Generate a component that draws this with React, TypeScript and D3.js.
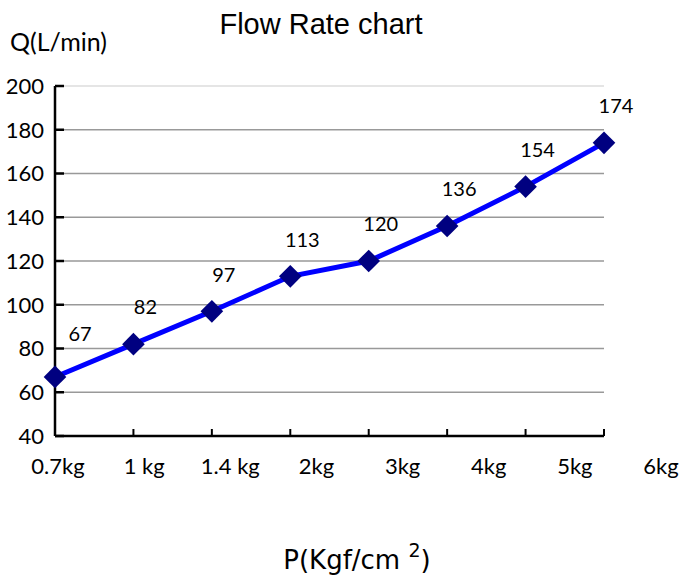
import { scaleLinear, scalePoint, line } from 'd3';

const categories = ['0.7kg', '1 kg', '1.4 kg', '2kg', '3kg', '4kg', '5kg', '6kg'];
const flow = [67, 82, 97, 113, 120, 136, 154, 174];
const yTicks = [40, 60, 80, 100, 120, 140, 160, 180, 200];

const width = 679;
const height = 577;
const left = 55;
const right = 604;
const top = 86;
const bottom = 436;

const App = () => {
  const xScale = scalePoint<string>().domain(categories).range([left, right]);
  // category labels are spaced wider than the ticks in the original
  const labelScale = scalePoint<string>().domain(categories).range([58, 661]);
  const yScale = scaleLinear().domain([40, 200]).range([bottom, top]);

  const path = line<number>()
    .x((_, i) => xScale(categories[i]) as number)
    .y(d => yScale(d))(flow);

  const font = 'Lato, "Open Sans", sans-serif';

  return (
    <svg width={width} height={height} style={{ position: 'absolute', left: 0, top: 0 }}>
      <rect width={width} height={height} fill="#fff" />
      <text x={321} y={34} textAnchor="middle" fontFamily='"Liberation Sans", Arial, sans-serif' fontSize={29}>
        Flow Rate chart
      </text>
      <text x={10} y={51} fontFamily={font} fontSize={25}>Q(L/min)</text>

      {/* gridlines */}
      {yTicks.filter(t => t > 40).map(t => (
        <line key={t} x1={left} x2={right} y1={yScale(t)} y2={yScale(t)}
          stroke={t === 200 ? '#ddd' : '#999'} strokeWidth={1.5} />
      ))}

      {/* y axis */}
      <line x1={left} x2={left} y1={top} y2={bottom} stroke="#000" strokeWidth={2.5} />
      {yTicks.map(t => (
        <g key={t}>
          <line x1={left} x2={left + 9} y1={yScale(t)} y2={yScale(t)} stroke="#000" strokeWidth={2.5} />
          <text x={44} y={yScale(t)} dy="0.36em" textAnchor="end" fontFamily={font} fontSize={22}>{t}</text>
        </g>
      ))}

      {/* x axis */}
      <line x1={left} x2={right} y1={bottom} y2={bottom} stroke="#000" strokeWidth={2.5} />
      {categories.map(c => (
        <line key={c} x1={xScale(c)} x2={xScale(c)} y1={bottom} y2={bottom - 7} stroke="#000" strokeWidth={2} />
      ))}
      {categories.map(c => (
        <text key={c} x={labelScale(c)} y={474} textAnchor="middle" fontFamily={font} fontSize={22}>{c}</text>
      ))}

      <path d={path ?? ''} fill="none" stroke="#0000ff" strokeWidth={5} />
      {flow.map((v, i) => {
        const cx = xScale(categories[i]) as number;
        const cy = yScale(v);
        return (
          <g key={i}>
            <rect x={cx - 8} y={cy - 8} width={16} height={16} fill="#000080"
              transform={`rotate(45 ${cx} ${cy})`} />
            <text x={cx + (i === 0 ? 25 : 12)} y={cy - (i === 0 ? 43 : 37)} dy="0.36em" textAnchor="middle"
              fontFamily={font} fontSize={20}>{v}</text>
          </g>
        );
      })}

      <text x={357} y={569} textAnchor="middle" fontFamily='"DejaVu Sans", Verdana, sans-serif' fontSize={26}>
        P(Kgf/cm <tspan dy={-12} fontSize={19}>2</tspan><tspan dy={12}>)</tspan>
      </text>
    </svg>
  );
};

export default App;
